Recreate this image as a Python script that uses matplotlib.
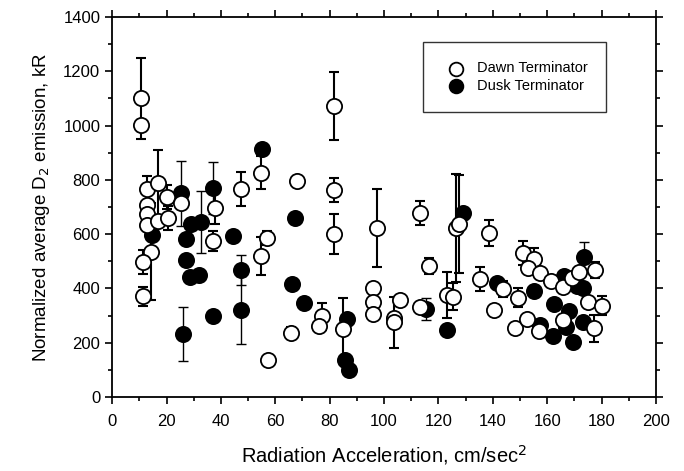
import numpy as np
import matplotlib
matplotlib.use("Agg")
import matplotlib.pyplot as plt
from matplotlib.ticker import MultipleLocator

plt.rcParams["font.family"] = ["Liberation Sans", "DejaVu Sans"]

# ---------- données ----------
dawn_x = [10.5, 10.5, 12.7, 17.0, 20.3, 12.9, 12.9, 12.9, 16.8, 20.5,
          14.2, 11.3, 11.3, 25.3, 37.9, 37.2, 47.5, 54.8, 54.8, 56.8,
          57.2, 67.8, 65.7, 77.0, 76.0, 81.5, 81.5, 81.5, 85.0, 95.8,
          95.8, 95.8, 97.4, 103.5, 103.5, 105.9, 113.4, 116.5, 113.4, 123.2,
          125.4, 126.5, 127.6, 138.7, 135.3, 140.4, 143.6, 149.3, 151.0, 155.0,
          153.0, 157.4, 161.3, 148.2, 152.5, 157.0, 165.9, 169.0, 171.8, 165.9,
          175.0, 177.4, 177.2, 180.1]
dawn_y = [1100, 1002, 765, 789, 737, 707, 673, 634, 650, 660,
          535, 497, 371, 714, 696, 575, 766, 827, 519, 586,
          138, 796, 237, 298, 262, 1072, 762, 600, 250, 401,
          350, 305, 623, 290, 275, 357, 678, 483, 332, 376,
          369, 622, 637, 604, 435, 320, 398, 365, 530, 508,
          474, 458, 426, 254, 289, 245, 405, 437, 462, 284,
          351, 468, 254, 336]
dawn_err = [150, 20, 50, 120, 45, 0, 0, 0, 0, 45,
            178, 45, 35, 0, 57, 38, 63, 62, 70, 25,
            0, 20, 20, 50, 0, 125, 44, 73, 115, 0,
            0, 0, 143, 0, 95, 0, 45, 30, 0, 85,
            50, 200, 180, 48, 45, 0, 30, 35, 45, 40,
            0, 0, 0, 0, 0, 0, 0, 0, 0, 0,
            0, 30, 50, 35]

dusk_x = [14.6, 25.3, 28.9, 32.5, 27.2, 27.2, 28.7, 32.0, 26.0, 37.2,
          37.2, 44.6, 47.5, 47.5, 55.0, 67.3, 66.3, 70.6, 86.4, 85.5,
          87.0, 115.4, 123.2, 129.0, 141.6, 155.0, 157.4, 162.2, 162.4, 166.2,
          168.2, 167.0, 171.0, 173.5, 173.0, 169.5, 173.0]
dusk_y = [597, 751, 637, 645, 582, 506, 444, 450, 232, 770,
          300, 593, 468, 322, 912, 660, 416, 346, 289, 136,
          100, 324, 247, 679, 420, 392, 265, 225, 341, 446,
          317, 258, 410, 517, 277, 204, 400]
dusk_err = [0, 120, 0, 115, 0, 0, 0, 0, 98, 95,
            0, 0, 55, 125, 0, 0, 0, 0, 0, 0,
            0, 40, 0, 0, 0, 0, 0, 0, 0, 0,
            0, 0, 0, 55, 0, 0, 0]

x_ticks = [0, 20, 40, 60, 80, 100, 120, 140, 160, 180, 200]
y_ticks = [0, 200, 400, 600, 800, 1000, 1200, 1400]

# ---------- figure ----------
fig = plt.figure(figsize=(6.84, 4.71), dpi=100)
ax = fig.add_axes([0.164, 0.157, 0.795, 0.807])


def barres(x, y, err, lw):
    x, y, err = np.array(x), np.array(y), np.array(err)
    m = err > 0
    ax.errorbar(x[m], y[m], yerr=err[m], fmt="none", ecolor="black",
                elinewidth=lw, capsize=3.6, capthick=lw, zorder=2)


barres(dawn_x, dawn_y, dawn_err, 1.5)
barres(dusk_x, dusk_y, dusk_err, 1.0)

ax.scatter(dusk_x, dusk_y, s=120, facecolor="black", edgecolor="black",
           linewidths=1.3, zorder=3, label="Dusk Terminator")
ax.scatter(dawn_x, dawn_y, s=120, facecolor="white", edgecolor="black",
           linewidths=1.3, zorder=4, label="Dawn Terminator")

ax.set_xlim(0, 200)
ax.set_ylim(0, 1400)
ax.set_xticks(x_ticks)
ax.set_yticks(y_ticks)
ax.xaxis.set_minor_locator(MultipleLocator(10))
ax.yaxis.set_minor_locator(MultipleLocator(100))
ax.tick_params(which="both", direction="out", top=True, right=True,
               labelsize=12, width=1.2)
ax.tick_params(axis="x", pad=7)
ax.tick_params(which="major", length=5)
ax.tick_params(which="minor", length=3)
for sp in ax.spines.values():
    sp.set_linewidth(1.3)

ax.set_xlabel("Radiation Acceleration, cm/sec$^2$", fontsize=14.5, labelpad=10)
ax.set_ylabel("Normalized average D$_2$ emission, kR", fontsize=13.5, labelpad=8)

h, l = ax.get_legend_handles_labels()
leg = ax.legend(h[::-1], l[::-1], loc="upper right", bbox_to_anchor=(0.922, 0.952),
                fontsize=10.5, fancybox=False, edgecolor="black",
                borderpad=1.3, handletextpad=0.4, labelspacing=0.25,
                markerscale=0.9)
leg.get_frame().set_linewidth(1.0)

fig.savefig("out.png", dpi=100)
